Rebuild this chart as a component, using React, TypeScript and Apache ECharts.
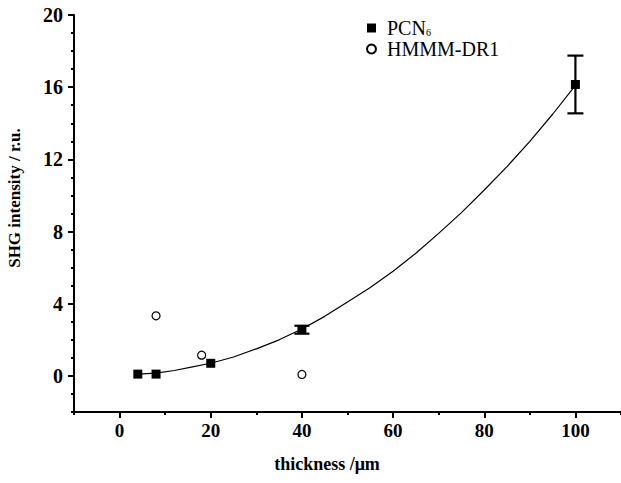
import React, { useEffect, useRef } from "react";
import * as echarts from "echarts";

const pcnX = [4, 8, 20, 40, 100];
const pcnY = [0.1, 0.1, 0.7, 2.57, 16.15];
const hmmmX = [8, 18, 40];
const hmmmY = [3.33, 1.15, 0.08];
const errX = [40, 100];
const errLow = [2.34, 14.55];
const errHigh = [2.78, 17.75];
const errCap = [15, 16];
const curveX = [4, 8, 12, 16, 20, 25, 30, 35, 40, 45, 50, 55, 60, 65, 70, 75, 80, 85, 90, 95, 100];
const curveY = [0.1, 0.15, 0.3, 0.5, 0.7, 1.05, 1.5, 2.0, 2.6, 3.3, 4.1, 4.9, 5.8, 6.8, 7.9, 9.05, 10.3, 11.6, 13.0, 14.5, 16.1];
const xMajor = [0, 20, 40, 60, 80, 100];
const xMinor = [-10, 10, 30, 50, 70, 90, 110];
const yMajor = [0, 4, 8, 12, 16, 20];
const yMinor = [-2, -1, 1, 2, 3, 5, 6, 7, 9, 10, 11, 13, 14, 15, 17, 18, 19];

const FONT = "'Liberation Serif', 'Times New Roman', serif";

export default function App() {
  const ref = useRef<HTMLDivElement>(null);
  useEffect(() => {
    if (!ref.current) return;
    const chart = echarts.init(ref.current, null, { renderer: "svg" });
    const axisCommon = {
      type: "value",
      splitLine: { show: false },
    };
    chart.setOption({
      animation: false,
      backgroundColor: "#fff",
      grid: { left: 74, top: 15, width: 550, height: 397 },
      legend: {
        orient: "vertical",
        left: 361,
        top: 13,
        itemWidth: 9,
        itemHeight: 9,
        itemGap: 1,
        data: ["PCN6", "HMMM-DR1"],
        formatter: (name: string) =>
          name === "PCN6" ? "{a|PCN}{b|6}" : "{a|" + name + "}",
        textStyle: {
          padding: [0, 0, 0, 6],
          rich: {
            a: { fontFamily: FONT, fontSize: 20, color: "#000", lineHeight: 19 },
            b: { fontFamily: FONT, fontSize: 10, color: "#000", lineHeight: 19, verticalAlign: "bottom" },
          },
        },
      },
      xAxis: [
        {
          ...axisCommon,
          min: -10,
          max: 110,
          axisLine: { show: true, onZero: false, lineStyle: { color: "#000", width: 2 } },
          axisTick: { show: true, customValues: xMajor, length: 6, lineStyle: { color: "#000", width: 2 } },
          axisLabel: {
            customValues: xMajor,
            margin: 9,
            color: "#000",
            fontFamily: FONT,
            fontSize: 19,
            fontWeight: "bold",
          },
        },
        {
          ...axisCommon,
          position: "bottom",
          min: -10,
          max: 110,
          axisLine: { show: false, onZero: false },
          axisTick: { show: true, customValues: xMinor, length: 3, lineStyle: { color: "#000", width: 2 } },
          axisLabel: { show: false },
        },
      ],
      yAxis: [
        {
          ...axisCommon,
          min: -2,
          max: 20,
          axisLine: { show: true, onZero: false, lineStyle: { color: "#000", width: 2 } },
          axisTick: { show: true, customValues: yMajor, length: 6, lineStyle: { color: "#000", width: 2 } },
          axisLabel: {
            customValues: yMajor,
            margin: 11,
            color: "#000",
            fontFamily: FONT,
            fontSize: 20,
            fontWeight: "bold",
          },
        },
        {
          ...axisCommon,
          position: "left",
          min: -2,
          max: 20,
          axisLine: { show: false, onZero: false },
          axisTick: { show: true, customValues: yMinor, length: 3, lineStyle: { color: "#000", width: 2 } },
          axisLabel: { show: false },
        },
      ],
      graphic: [
        {
          type: "text",
          x: 14,
          y: 198,
          rotation: Math.PI / 2,
          style: {
            text: "SHG intensity / r.u.",
            fontFamily: FONT,
            fontSize: 17,
            fontWeight: "bold",
            fill: "#000",
            align: "center",
            verticalAlign: "middle",
          },
        },
        {
          type: "text",
          x: 327,
          y: 464,
          style: {
            text: "thickness /μm",
            fontFamily: FONT,
            fontSize: 18,
            fontWeight: "bold",
            fill: "#000",
            align: "center",
            verticalAlign: "middle",
          },
        },
      ],
      series: [
        {
          type: "line",
          name: "fit",
          data: curveX.map((x, i) => [x, curveY[i]]),
          smooth: false,
          showSymbol: false,
          symbol: "none",
          lineStyle: { color: "#000", width: 1.2 },
          silent: true,
          z: 1,
        },
        {
          type: "custom",
          name: "err",
          data: errX.map((x, i) => [x, errLow[i], errHigh[i], errCap[i]]),
          renderItem: (params: any, api: any) => {
            const x = api.value(0);
            const lo = api.coord([x, api.value(1)]);
            const hi = api.coord([x, api.value(2)]);
            const hw = api.value(3) / 2;
            const st = { stroke: "#000", lineWidth: 2.2 };
            return {
              type: "group",
              children: [
                { type: "line", shape: { x1: lo[0], y1: lo[1], x2: hi[0], y2: hi[1] }, style: st },
                { type: "line", shape: { x1: lo[0] - hw, y1: lo[1], x2: lo[0] + hw, y2: lo[1] }, style: st },
                { type: "line", shape: { x1: hi[0] - hw, y1: hi[1], x2: hi[0] + hw, y2: hi[1] }, style: st },
              ],
            };
          },
          z: 2,
        },
        {
          type: "scatter",
          name: "PCN6",
          data: pcnX.map((x, i) => [x, pcnY[i]]),
          symbol: "rect",
          symbolSize: 9,
          itemStyle: { color: "#000", opacity: 1 },
          z: 3,
        },
        {
          type: "scatter",
          name: "HMMM-DR1",
          data: hmmmX.map((x, i) => [x, hmmmY[i]]),
          symbol: "circle",
          symbolSize: 8,
          itemStyle: { color: "#fff", borderColor: "#000", borderWidth: 1.2, opacity: 1 },
          z: 3,
        },
      ],
    });
    return () => chart.dispose();
  }, []);
  return <div ref={ref} style={{ width: 621, height: 483, position: "absolute", left: 0, top: 0 }} />;
}
